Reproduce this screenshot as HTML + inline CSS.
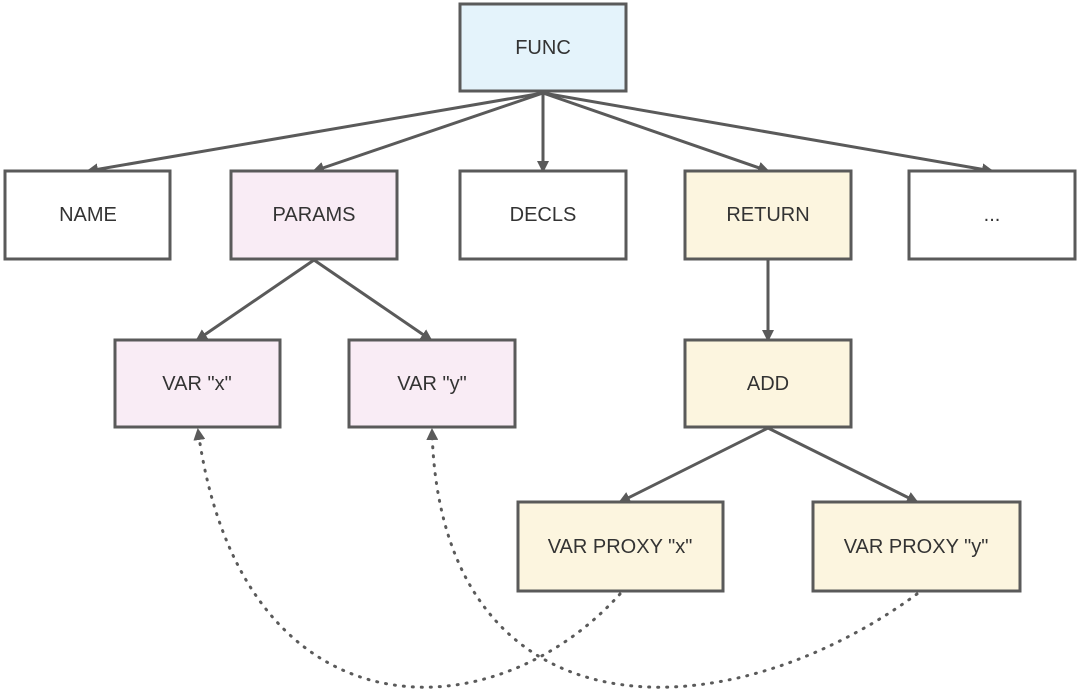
<!DOCTYPE html>
<html><head><meta charset="utf-8"><style>
html,body{margin:0;padding:0;background:#fff;}
svg{display:block;}
text{font-family:"Liberation Sans",sans-serif;font-size:20px;fill:#333;text-anchor:middle;dominant-baseline:central;}
rect{stroke:#5a5a5a;stroke-width:3;}
</style></head><body>
<svg width="1080" height="689" viewBox="0 0 1080 689">
<defs>
<marker id="b" markerWidth="12" markerHeight="12" refX="10" refY="6" orient="auto" markerUnits="userSpaceOnUse" viewBox="0 0 12 12">
<path d="M0,0 L12,6 L0,12 z" fill="#5a5a5a"/></marker>
</defs>
<g stroke="#5a5a5a" stroke-width="3" fill="none" marker-end="url(#b)">
<line x1="543" y1="93" x2="88" y2="171"/>
<line x1="543" y1="93" x2="314" y2="171"/>
<line x1="543" y1="93" x2="543" y2="171"/>
<line x1="543" y1="93" x2="768" y2="171"/>
<line x1="543" y1="93" x2="992" y2="171"/>
<line x1="314" y1="260" x2="197" y2="340"/>
<line x1="314" y1="260" x2="431" y2="340"/>
<line x1="768" y1="260" x2="768" y2="340"/>
<line x1="768" y1="428" x2="620" y2="502"/>
<line x1="768" y1="428" x2="917" y2="502"/>
</g>
<g stroke="#5a5a5a" stroke-width="3" fill="none" stroke-dasharray="1 8" stroke-linecap="round" marker-end="url(#b)">
<path d="M620,594 C490,738 240,738 198,430"/>
<path d="M917,594 C720,738 440,738 432,430"/>
</g>
<rect x="460" y="4" width="166" height="87" fill="#e4f3fb"/><text x="543" y="48">FUNC</text>
<rect x="5" y="171" width="165" height="88" fill="#fff"/><text x="88" y="215">NAME</text>
<rect x="231" y="171" width="166" height="88" fill="#f9ecf5"/><text x="314" y="215">PARAMS</text>
<rect x="460" y="171" width="166" height="88" fill="#fff"/><text x="543" y="215">DECLS</text>
<rect x="685" y="171" width="166" height="88" fill="#fcf5df"/><text x="768" y="215">RETURN</text>
<rect x="909" y="171" width="166" height="88" fill="#fff"/><text x="992" y="215">...</text>
<rect x="115" y="340" width="165" height="87" fill="#f9ecf5"/><text x="197" y="384">VAR "x"</text>
<rect x="349" y="340" width="166" height="87" fill="#f9ecf5"/><text x="432" y="384">VAR "y"</text>
<rect x="685" y="340" width="166" height="87" fill="#fcf5df"/><text x="768" y="384">ADD</text>
<rect x="518" y="502" width="205" height="89" fill="#fcf5df"/><text x="620" y="547">VAR PROXY "x"</text>
<rect x="813" y="502" width="207" height="89" fill="#fcf5df"/><text x="916" y="547">VAR PROXY "y"</text>
</svg>
</body></html>
